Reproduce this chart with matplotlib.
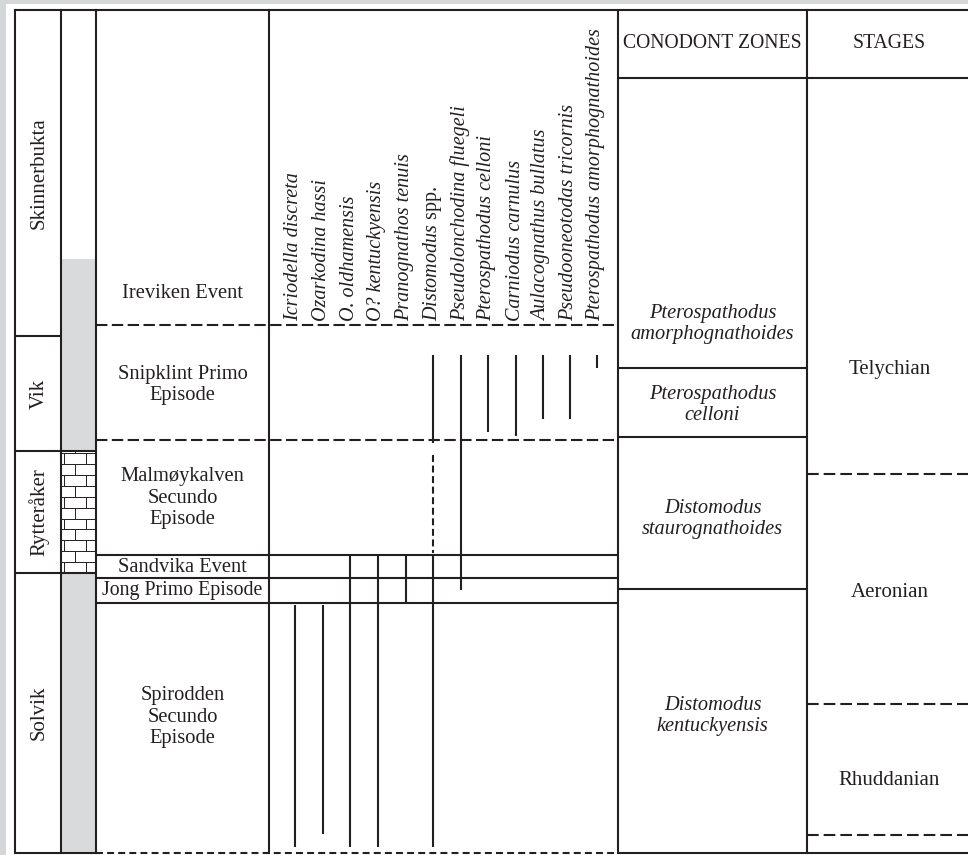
import numpy as np
import matplotlib.pyplot as plt
from matplotlib.patches import Rectangle

plt.rcParams['font.family'] = ['Liberation Serif', 'DejaVu Serif']
plt.rcParams['mathtext.fontset'] = 'custom'
plt.rcParams['mathtext.rm'] = 'Liberation Serif'
plt.rcParams['mathtext.it'] = 'Liberation Serif:italic'
plt.rcParams['lines.scale_dashes'] = False

INK = '#231f20'
GREY = '#d9dadb'

# column edges of the chart (left to right)
col_edges = [15, 61, 96, 269, 618, 807, 968]
chart_top, chart_bottom, header_bottom = 10, 853, 78

# formations
formations = ["Skinnerbukta", "Vik", "Rytteråker", "Solvik"]
formation_bounds = [10, 336, 451, 573, 853]

# lithology column
litho_kind = ["none", "shale", "limestone", "shale"]
litho_bounds = [10, 259, 451, 573, 853]

# events / episodes
events = ["Ireviken Event", "Snipklint Primo\nEpisode", "Malmøykalven\nSecundo\nEpisode",
          "Sandvika Event", "Jong Primo Episode", "Spirodden\nSecundo\nEpisode"]
event_bounds = [10, 325, 440, 555, 578, 603, 853]
event_bound_style = ["solid", "dashed", "dashed", "solid", "solid", "solid", "dashed"]
event_label_y = [293, 385, 498, 567, 590, 717]

# conodont taxa and their ranges (top, bottom, style)
species = ["Icriodella discreta", "Ozarkodina hassi", "O. oldhamensis", "O? kentuckyensis",
           "Pranognathos tenuis", "Distomodus $\\mathrm{spp.}$", "Pseudolonchodina fluegeli",
           "Pterospathodus celloni", "Carniodus carnulus", "Aulacognathus bullatus",
           "Pseudooneotodas tricornis", "Pterospathodus amorphognathoides"]
species_x = [295, 323, 350, 378, 406, 433, 461, 488, 516, 543, 570, 597]
ranges = [
    [(605, 847, "solid")],
    [(605, 834, "solid")],
    [(555, 847, "solid")],
    [(555, 847, "solid")],
    [(555, 603, "solid")],
    [(355, 443, "solid"), (455, 553, "dashed"), (555, 847, "solid")],
    [(355, 590, "solid")],
    [(355, 432, "solid")],
    [(355, 436, "solid")],
    [(355, 419, "solid")],
    [(355, 419, "solid")],
    [(355, 368, "solid")],
]

# conodont zones
zones = ["Pterospathodus\namorphognathoides", "Pterospathodus\ncelloni",
         "Distomodus\nstaurognathoides", "Distomodus\nkentuckyensis"]
zone_bounds = [78, 368, 437, 589, 853]
zone_label_y = [324, 405, 519, 716]

# stages
stages = ["Telychian", "Aeronian", "Rhuddanian"]
stage_bounds = [474, 704, 835]
stage_label_y = [369, 592, 780]

FS = 14.8
fig = plt.figure(figsize=(9.68, 8.55), dpi=100, facecolor='#d5d6d8')
ax = fig.add_axes([0, 0, 1, 1])
ax.set_xlim(0, 968)
ax.set_ylim(855, 0)
ax.axis('off')
ax.add_patch(Rectangle((6, 4), 970, 860, facecolor='white', edgecolor='none', zorder=0))

LW = 1.5
dash_h = (0, (8.2, 3.2))


def hline(y, x0, x1, style="solid", dashes=dash_h, lw=LW):
    if style == "dashed":
        ax.plot([x0, x1], [y, y], color=INK, lw=lw, linestyle=dashes, solid_capstyle='butt')
    else:
        ax.plot([x0, x1], [y, y], color=INK, lw=lw, solid_capstyle='butt')


# lithology fills
c0, c1 = col_edges[1], col_edges[2]
for kind, top, bot in zip(litho_kind, litho_bounds[:-1], litho_bounds[1:]):
    if kind == "shale":
        ax.add_patch(Rectangle((c0, top), c1 - c0, bot - top, facecolor=GREY, edgecolor='none', zorder=1))
    elif kind == "limestone":
        rows = np.arange(bot, top, -10.9)[::-1]
        rows = np.concatenate([[top], rows])
        for i, (r0, r1) in enumerate(zip(rows[:-1], rows[1:])):
            ax.plot([c0, c1], [r1, r1], color=INK, lw=0.7, zorder=2)
            joints = [75] if i % 2 == 0 else [64, 86]
            for jx in joints:
                ax.plot([jx, jx], [r0, r1], color=INK, lw=0.7, zorder=2)
        hline(top, c0, c1)
        hline(bot, c0, c1)

# frame: vertical column lines
for x in col_edges[:-1]:
    ax.plot([x, x], [chart_top, chart_bottom], color=INK, lw=LW, zorder=3)
hline(chart_top, col_edges[0], col_edges[-1])
hline(header_bottom, col_edges[4], col_edges[-1])

# bottom line
hline(chart_bottom, col_edges[0], col_edges[2])
hline(chart_bottom, col_edges[2], col_edges[4], "dashed", (0, (5, 3)))
hline(chart_bottom, col_edges[4], col_edges[-1])

# formations
for name, top, bot in zip(formations, formation_bounds[:-1], formation_bounds[1:]):
    ax.text((col_edges[0] + col_edges[1]) / 2 + 1, (top + bot) / 2, name, rotation=90,
            ha='center', va='center', fontsize=15, color=INK)
for y in formation_bounds[1:-1]:
    hline(y, col_edges[0], col_edges[1])

# events
for name, y in zip(events, event_label_y):
    fs = 14.3 if name.startswith("Jong") else FS
    ax.text((col_edges[2] + col_edges[3]) / 2, y, name, ha='center', va='center',
            fontsize=fs, color=INK, linespacing=1.2)
for y, st in zip(event_bounds[1:-1], event_bound_style[1:-1]):
    hline(y, col_edges[2], col_edges[4], st)

# species labels and ranges
for name, x, segs in zip(species, species_x, ranges):
    ax.text(x - 1, 321, name, rotation=90, ha='center', va='bottom', fontsize=14.5,
            fontstyle='italic', color=INK)
    for top, bot, st in segs:
        if st == "dashed":
            ax.plot([x, x], [top, bot], color=INK, lw=LW, linestyle=(0, (5, 2.6)))
        else:
            ax.plot([x, x], [top, bot], color=INK, lw=LW, solid_capstyle='butt')

# conodont zones
zx = (col_edges[4] + col_edges[5]) / 2
ax.text(zx, (chart_top + header_bottom) / 2, "CONODONT ZONES", ha='center', va='center',
        fontsize=14.2, color=INK)
for name, y in zip(zones, zone_label_y):
    ax.text(zx, y, name, ha='center', va='center', fontsize=14.7, fontstyle='italic',
            color=INK, linespacing=1.2)
for y in zone_bounds[1:-1]:
    hline(y, col_edges[4], col_edges[5])

# stages
sx = (col_edges[5] + col_edges[6]) / 2 + 2
ax.text(sx, (chart_top + header_bottom) / 2, "STAGES", ha='center', va='center',
        fontsize=14.2, color=INK)
for name, y in zip(stages, stage_label_y):
    ax.text(sx, y, name, ha='center', va='center', fontsize=15, color=INK)
for y in stage_bounds:
    hline(y, col_edges[5], col_edges[6], "dashed", (0, (8.4, 3.6)))

fig.savefig('out.png', dpi=100, facecolor=fig.get_facecolor())
